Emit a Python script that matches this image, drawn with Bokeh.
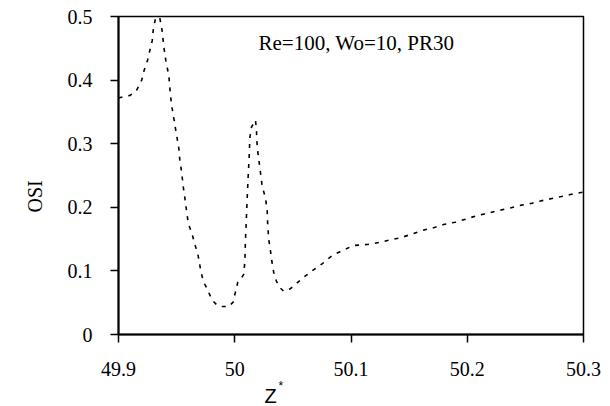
from bokeh.plotting import figure
from bokeh.models import Range1d, FixedTicker, CustomJSTickFormatter, Label, Title
from bokeh.embed import file_html
from bokeh.resources import INLINE

z_star = [49.900, 49.910, 49.9155, 49.920, 49.922, 49.925, 49.927, 49.929, 49.930, 49.932,
          49.9355, 49.9375, 49.939, 49.9407, 49.9433, 49.9447, 49.946, 49.9476, 49.949, 49.9505,
          49.952, 49.9527, 49.954, 49.955, 49.956, 49.9573, 49.9585, 49.960, 49.9633, 49.966,
          49.9685, 49.9705, 49.9728, 49.9762, 49.9805, 49.9849, 49.9892, 49.9948, 49.9986, 50.0006,
          50.0026, 50.0055, 50.0078, 50.0087, 50.0092, 50.0107, 50.0115, 50.0124, 50.013, 50.0144,
          50.0178, 50.0187, 50.019, 50.0198, 50.021, 50.0221, 50.0236, 50.0264, 50.0279, 50.0283,
          50.0292, 50.0307, 50.032, 50.0335, 50.0358, 50.0387, 50.0421, 50.0479, 50.053, 50.0593,
          50.0665, 50.0751, 50.0837, 50.0937, 50.1023, 50.1138, 50.1253, 50.1339, 50.1425, 50.1525,
          50.1611, 50.1711, 50.1797, 50.1898, 50.1998, 50.2084, 50.2184, 50.227, 50.237, 50.2456,
          50.2556, 50.2656, 50.2785, 50.2886, 50.2996]
osi = [0.372, 0.376, 0.384, 0.400, 0.415, 0.431, 0.447, 0.462, 0.481, 0.498,
       0.498, 0.478, 0.452, 0.431, 0.407, 0.376, 0.357, 0.340, 0.324, 0.308,
       0.291, 0.275, 0.259, 0.244, 0.228, 0.212, 0.195, 0.175, 0.158, 0.140,
       0.124, 0.103, 0.084, 0.072, 0.054, 0.046, 0.044, 0.044, 0.051, 0.067,
       0.082, 0.088, 0.095, 0.116, 0.148, 0.214, 0.247, 0.279, 0.310, 0.326,
       0.337, 0.321, 0.305, 0.287, 0.271, 0.255, 0.233, 0.215, 0.195, 0.175,
       0.150, 0.132, 0.114, 0.098, 0.084, 0.074, 0.068, 0.072, 0.080, 0.090,
       0.100, 0.111, 0.124, 0.133, 0.140, 0.1415, 0.145, 0.149, 0.152, 0.158,
       0.1635, 0.168, 0.173, 0.1766, 0.182, 0.187, 0.191, 0.195, 0.199, 0.203,
       0.2065, 0.211, 0.216, 0.220, 0.2237]

x_ticks = [49.9, 50.0, 50.1, 50.2, 50.3]
y_ticks = [0.0, 0.1, 0.2, 0.3, 0.4, 0.5]
annotation = "Re=100, Wo=10, PR30"
x_title = "Z"
x_title_sup = "*"
y_title = "OSI"

SERIF = "Liberation Serif"

p = figure(width=610, height=406, output_backend="svg", toolbar_location=None,
           x_range=Range1d(49.9, 50.3), y_range=Range1d(0, 0.5))
p.min_border_left = 118
p.min_border_right = 27
p.min_border_top = 16
p.min_border_bottom = 72
p.background_fill_color = "white"
p.border_fill_color = "white"
p.outline_line_color = "black"
p.outline_line_width = 1.5
p.xgrid.visible = False
p.ygrid.visible = False

p.line(z_star, osi, line_color="black", line_width=1.6, line_dash="4 6")

fmt = CustomJSTickFormatter(code="var s = tick.toFixed(1); if (s.endsWith('.0')) { s = s.slice(0, -2); } return s;")
for ax, ticks in ((p.xaxis[0], x_ticks), (p.yaxis[0], y_ticks)):
    ax.ticker = FixedTicker(ticks=ticks)
    ax.formatter = fmt
    ax.axis_line_width = 2
    ax.axis_line_color = "black"
    ax.major_tick_line_width = 1.5
    ax.major_tick_line_color = "black"
    ax.major_tick_in = 0
    ax.major_tick_out = 8
    ax.minor_tick_line_color = None
    ax.major_label_text_font = SERIF
    ax.major_label_text_font_size = "20px"
    ax.major_label_text_color = "black"

p.yaxis[0].major_label_standoff = 18
p.xaxis[0].major_label_standoff = 19

p.add_layout(Label(x=50.0204, y=0.459, text=annotation, text_font=SERIF,
                   text_font_size="21px", text_color="black",
                   text_align="left", text_baseline="alphabetic"))

p.add_layout(Title(text=y_title, align="left", offset=122, standoff=38,
                   text_font=SERIF, text_font_size="20px", text_line_height=0.5,
                   text_font_style="normal", text_color="black"), "left")

p.add_layout(Title(text=x_title_sup, align="left", offset=160, standoff=-4,
                   text_font="Liberation Sans", text_font_size="12px",
                   text_font_style="normal", text_color="black"), "below")
p.add_layout(Title(text=x_title, align="left", offset=146, standoff=-15,
                   text_font="Liberation Sans", text_font_size="20px",
                   text_font_style="normal", text_color="black"), "below")

open("out.html", "w").write(file_html(p, INLINE))
